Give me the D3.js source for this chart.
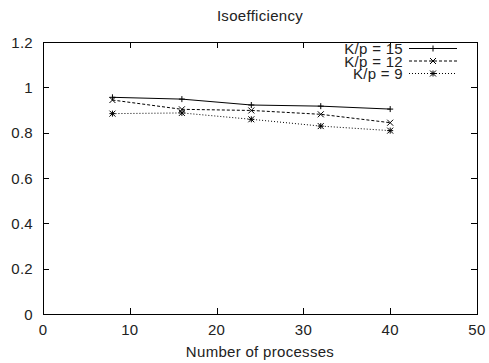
<!DOCTYPE html>
<html>
<head>
<meta charset="utf-8">
<script src="https://cdn.jsdelivr.net/npm/d3@7"></script>
<style>
body { margin: 0; background: #fff; }
text { font-family: "Liberation Sans", Arial, sans-serif; font-size: 15px; letter-spacing: 0.3px; fill: #222; }
</style>
</head>
<body>
<div id="chart"></div>
<script>
var processes = [8, 16, 24, 32, 40];
var kp15 = [0.956, 0.948, 0.922, 0.917, 0.904];
var kp12 = [0.944, 0.903, 0.898, 0.881, 0.844];
var kp9 = [0.884, 0.887, 0.859, 0.829, 0.809];
var seriesNames = ['K/p = 15', 'K/p = 12', 'K/p = 9'];
var xTicks = [0, 10, 20, 30, 40, 50];
var yTicks = [0, 0.2, 0.4, 0.6, 0.8, 1, 1.2];

var width = 489, height = 363;
var margin = { left: 43, top: 42, right: 12, bottom: 49 };

var svg = d3.select('#chart').append('svg')
    .attr('width', width)
    .attr('height', height);

var xScale = d3.scaleLinear().domain([0, 50]).range([margin.left, width - margin.right]);
var yScale = d3.scaleLinear().domain([0, 1.2]).range([height - margin.bottom, margin.top]);

// frame
svg.append('rect')
    .attr('x', xScale(0) + 0.5)
    .attr('y', yScale(1.2) + 0.5)
    .attr('width', xScale(50) - xScale(0))
    .attr('height', yScale(0) - yScale(1.2))
    .attr('fill', 'none')
    .attr('stroke', '#000')
    .attr('stroke-width', 1);

// ticks, inward on all four sides
var tl = 6;
xTicks.forEach(function (t) {
    var x = Math.round(xScale(t)) + 0.5;
    svg.append('line').attr('x1', x).attr('x2', x)
        .attr('y1', yScale(0)).attr('y2', yScale(0) - tl).attr('stroke', '#000');
    svg.append('line').attr('x1', x).attr('x2', x)
        .attr('y1', yScale(1.2)).attr('y2', yScale(1.2) + tl).attr('stroke', '#000');
    svg.append('text').attr('x', xScale(t)).attr('y', yScale(0) + 21)
        .attr('text-anchor', 'middle').text(t);
});
yTicks.forEach(function (t) {
    var y = Math.round(yScale(t)) + 0.5;
    svg.append('line').attr('x1', xScale(0)).attr('x2', xScale(0) + tl)
        .attr('y1', y).attr('y2', y).attr('stroke', '#000');
    svg.append('line').attr('x1', xScale(50)).attr('x2', xScale(50) - tl)
        .attr('y1', y).attr('y2', y).attr('stroke', '#000');
    svg.append('text').attr('x', xScale(0) - 10).attr('y', yScale(t) + 5.5)
        .attr('text-anchor', 'end').text(d3.format('~g')(t));
});

svg.append('text').attr('x', 260).attr('y', 21).attr('text-anchor', 'middle').text('Isoefficiency');
svg.append('text').attr('x', 260).attr('y', 357).attr('text-anchor', 'middle').text('Number of processes');

var allSeries = [kp15, kp12, kp9];
var dashes = [null, '3,2', '1,2'];

function marker(g, x, y, i) {
    var s = 3;
    if (i === 0 || i === 2) {
        g.append('line').attr('x1', x - s).attr('x2', x + s).attr('y1', y).attr('y2', y).attr('stroke', '#000');
        g.append('line').attr('x1', x).attr('x2', x).attr('y1', y - s).attr('y2', y + s).attr('stroke', '#000');
    }
    if (i === 1 || i === 2) {
        g.append('line').attr('x1', x - s).attr('x2', x + s).attr('y1', y - s).attr('y2', y + s).attr('stroke', '#000');
        g.append('line').attr('x1', x - s).attr('x2', x + s).attr('y1', y + s).attr('y2', y - s).attr('stroke', '#000');
    }
}

var line = d3.line()
    .x(function (d) { return xScale(d[0]); })
    .y(function (d) { return yScale(d[1]); });

allSeries.forEach(function (vals, i) {
    var pts = processes.map(function (p, j) { return [p, vals[j]]; });
    var g = svg.append('g');
    g.append('path')
        .attr('d', line(pts))
        .attr('fill', 'none')
        .attr('stroke', '#000')
        .attr('stroke-width', 1)
        .attr('stroke-dasharray', dashes[i]);
    pts.forEach(function (p) { marker(g, xScale(p[0]), yScale(p[1]), i); });

    // legend entry
    var ly = 48.5 + i * 12.5;
    svg.append('text').attr('x', 403).attr('y', ly + 5.5).attr('text-anchor', 'end').text(seriesNames[i]);
    g.append('line').attr('x1', 409).attr('x2', 457).attr('y1', ly).attr('y2', ly)
        .attr('stroke', '#000').attr('stroke-dasharray', dashes[i]);
    marker(g, 433, ly, i);
});
</script>
</body>
</html>
